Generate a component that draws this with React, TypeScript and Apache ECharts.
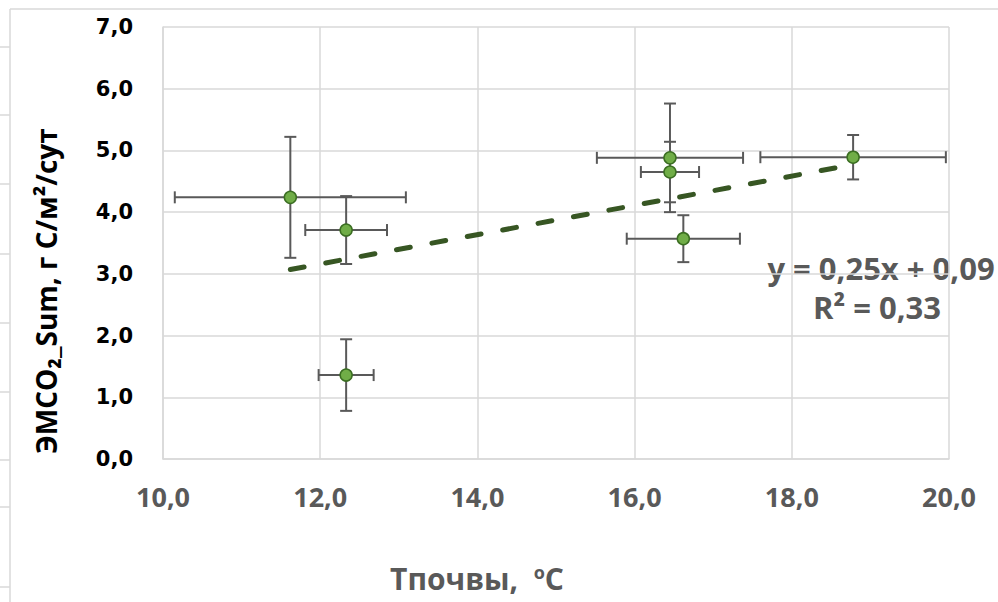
import React, { useEffect, useRef } from "react";
import * as echarts from "echarts";

// Data: soil temperature (x) vs. ЭМCO2_Sum (y) with errors
const tempX = [11.62, 12.33, 12.33, 16.45, 16.45, 16.62, 18.78];
const emcoY = [4.24, 3.71, 1.36, 4.88, 4.65, 3.57, 4.89];
const xErr = [1.47, 0.52, 0.35, 0.93, 0.37, 0.72, 1.18];
const yErr = [0.98, 0.55, 0.58, 0.88, 0.49, 0.38, 0.36];
// Linear trendline endpoints (as drawn)
const trendX = [11.62, 18.78];
const trendY = [3.07, 4.77];
const xTicks = { min: 10, max: 20, interval: 2 };
const yTicks = { min: 0, max: 7, interval: 1 };
const equationText = "y = 0,25x + 0,09";
const r2Text = "R² = 0,33";
const xTitle = "Тпочвы,  ";
const yTitle = "ЭМCO₂_Sum, г C/м²/сут";

// decorative frame fragments from the surrounding document
const sideTickYs = [47, 115, 184, 254, 323, 392, 460, 507, 587];

const fmt = (v: number) => v.toFixed(1).replace(".", ",");

export default function App() {
  const ref = useRef<HTMLDivElement>(null);
  useEffect(() => {
    if (!ref.current) return;
    const chart = echarts.init(ref.current, null, { renderer: "svg" });
    const points = tempX.map((x, i) => [x, emcoY[i]]);
    const errData = tempX.map((x, i) => [x, emcoY[i], xErr[i], yErr[i]]);
    const grey = "#d9d9d9";
    const graphics: any[] = [
      {
        type: "line",
        shape: { x1: 10, y1: 9, x2: 998, y2: 9 },
        style: { stroke: grey, lineWidth: 1.5 },
        silent: true,
      },
      {
        type: "line",
        shape: { x1: 10, y1: 9, x2: 10, y2: 602 },
        style: { stroke: grey, lineWidth: 1.5 },
        silent: true,
      },
      ...sideTickYs.map((y) => ({
        type: "line",
        shape: { x1: 0, y1: y, x2: 10, y2: y },
        style: { stroke: grey, lineWidth: 1.5 },
        silent: true,
      })),
      {
        type: "text",
        x: 46,
        y: 291,
        rotation: Math.PI / 2,
        style: {
          text: yTitle,
          font: "bold 28px 'Open Sans'",
          fill: "#000000",
          align: "center",
          verticalAlign: "middle",
        },
      },
      {
        type: "text",
        x: 477,
        y: 578,
        style: {
          text: xTitle + "{sup|o}C",
          font: "bold 30px 'Open Sans'",
          fill: "#595959",
          align: "center",
          verticalAlign: "middle",
          rich: {
            sup: {
              font: "bold 18px 'Open Sans'",
              fill: "#595959",
              verticalAlign: "top",
              padding: [0, 0, 12, 0],
            },
          },
        },
      },
      {
        type: "text",
        x: 881,
        y: 268,
        style: {
          text: equationText,
          font: "bold 31px 'Open Sans'",
          fill: "#595959",
          align: "center",
          verticalAlign: "middle",
        },
      },
      {
        type: "text",
        x: 877,
        y: 307,
        style: {
          text: r2Text,
          font: "bold 31px 'Open Sans'",
          fill: "#595959",
          align: "center",
          verticalAlign: "middle",
        },
      },
    ];

    chart.setOption({
      animation: false,
      backgroundColor: "#ffffff",
      grid: { left: 163, right: 49, top: 27, bottom: 143, containLabel: false },
      xAxis: {
        type: "value",
        min: xTicks.min,
        max: xTicks.max,
        interval: xTicks.interval,
        axisLine: { show: true, lineStyle: { color: grey, width: 1.5 } },
        axisTick: { show: false },
        splitLine: { show: true, lineStyle: { color: grey, width: 1.5 } },
        axisLabel: {
          formatter: fmt,
          color: "#595959",
          fontWeight: "bold",
          fontSize: 27,
          fontFamily: "Open Sans",
          margin: 24,
        },
      },
      yAxis: {
        type: "value",
        min: yTicks.min,
        max: yTicks.max,
        interval: yTicks.interval,
        axisLine: { show: true, lineStyle: { color: grey, width: 1.5 } },
        axisTick: { show: false },
        splitLine: { show: true, lineStyle: { color: grey, width: 1.5 } },
        axisLabel: {
          formatter: fmt,
          color: "#000000",
          fontWeight: "bold",
          fontSize: 21,
          fontFamily: "DejaVu Sans",
          margin: 30,
        },
      },
      graphic: graphics,
      series: [
        {
          type: "custom",
          z: 1,
          silent: true,
          data: errData,
          renderItem: (params: any, api: any) => {
            const x = api.value(0);
            const y = api.value(1);
            const xe = api.value(2);
            const ye = api.value(3);
            const l = api.coord([x - xe, y]);
            const r = api.coord([x + xe, y]);
            const t = api.coord([x, y + ye]);
            const b = api.coord([x, y - ye]);
            const cap = 6;
            const st = { stroke: "#595959", lineWidth: 2 };
            return {
              type: "group",
              children: [
                { type: "line", shape: { x1: l[0], y1: l[1], x2: r[0], y2: r[1] }, style: st },
                { type: "line", shape: { x1: l[0], y1: l[1] - cap, x2: l[0], y2: l[1] + cap }, style: st },
                { type: "line", shape: { x1: r[0], y1: r[1] - cap, x2: r[0], y2: r[1] + cap }, style: st },
                { type: "line", shape: { x1: t[0], y1: t[1], x2: b[0], y2: b[1] }, style: st },
                { type: "line", shape: { x1: t[0] - cap, y1: t[1], x2: t[0] + cap, y2: t[1] }, style: st },
                { type: "line", shape: { x1: b[0] - cap, y1: b[1], x2: b[0] + cap, y2: b[1] }, style: st },
              ],
            };
          },
        },
        {
          type: "scatter",
          z: 2,
          data: points,
          symbol: "circle",
          symbolSize: 12,
          itemStyle: { color: "#70AD47", borderColor: "#3B6E22", borderWidth: 1.5, opacity: 1 },
        },
        {
          type: "line",
          z: 3,
          data: trendX.map((x, i) => [x, trendY[i]]),
          symbol: "none",
          lineStyle: { color: "#375623", width: 5, type: [14, 22], cap: "round" },
        },
      ],
    });
    return () => chart.dispose();
  }, []);
  return (
    <div
      ref={ref}
      style={{ position: "fixed", left: 0, top: 0, width: 998, height: 602 }}
    />
  );
}
